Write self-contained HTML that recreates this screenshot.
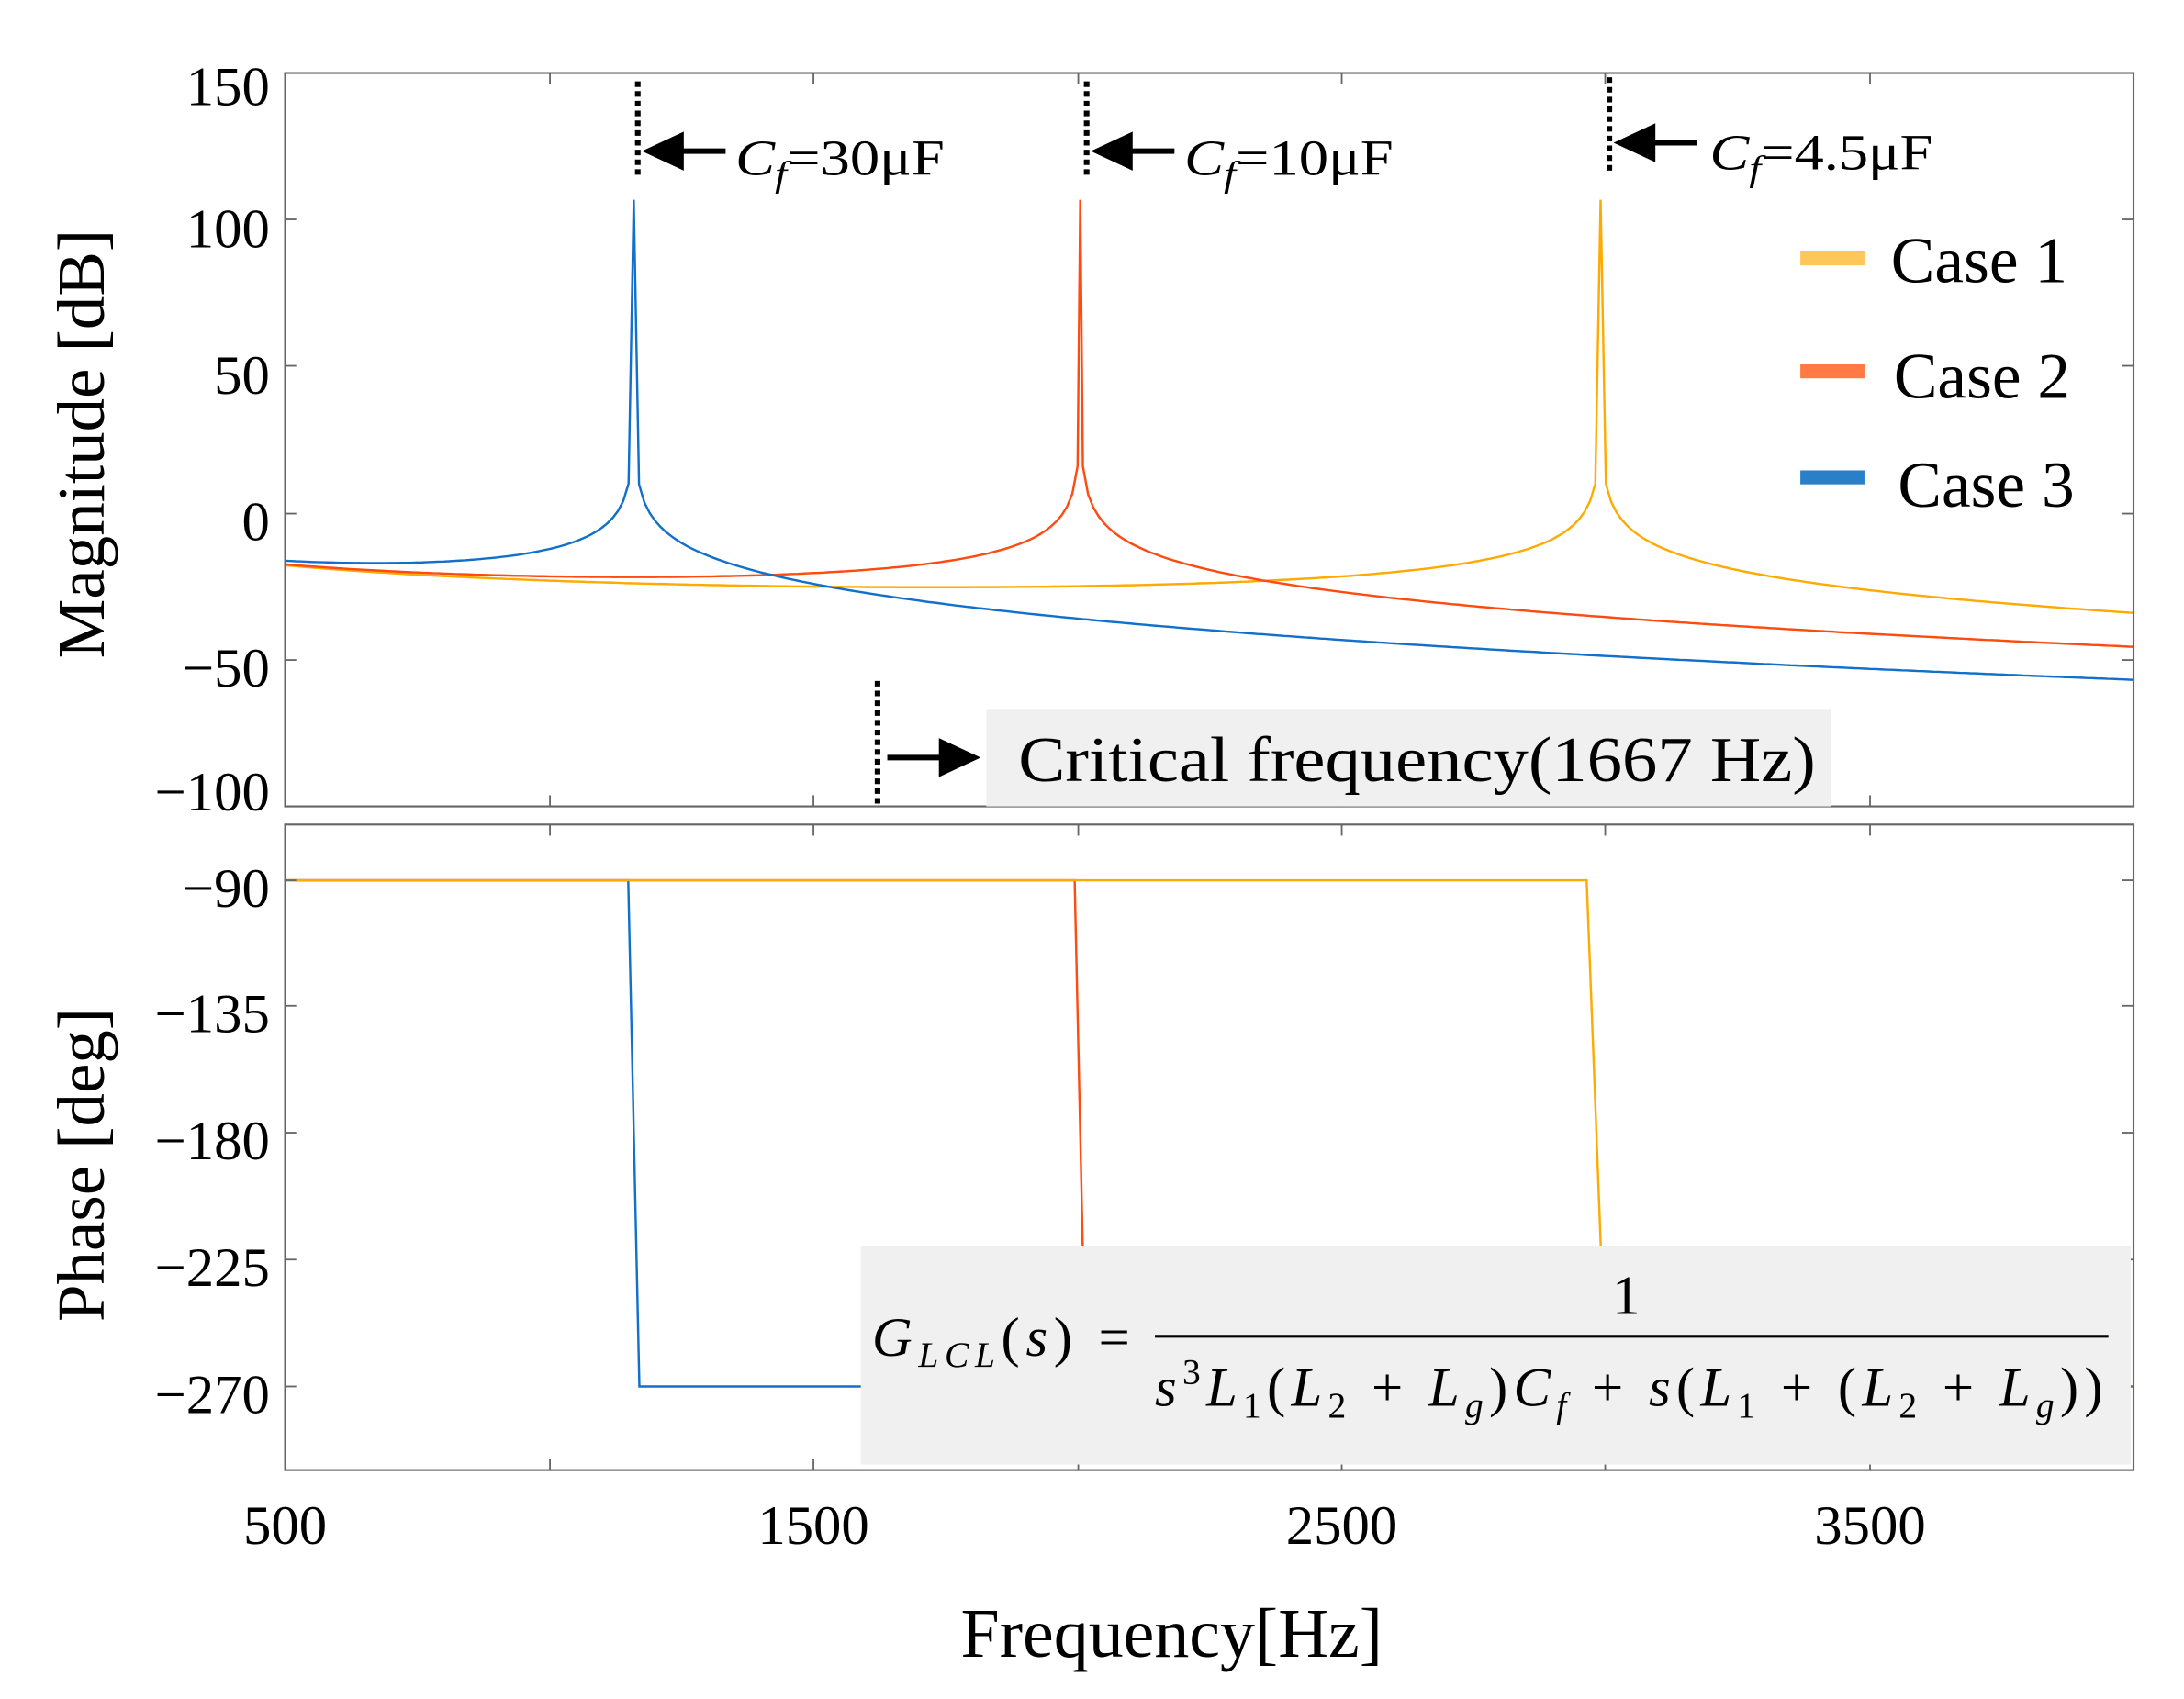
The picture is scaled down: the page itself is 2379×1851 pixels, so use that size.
<!DOCTYPE html>
<html><head><meta charset="utf-8"><style>
html,body{margin:0;padding:0;background:#fff;}
svg{display:block;}
text{font-family:"Liberation Serif",serif;fill:#000;}
</style></head><body>
<svg id="s" width="2379" height="1851" viewBox="0 0 1555 1210" preserveAspectRatio="none" xmlns="http://www.w3.org/2000/svg">
<rect width="1555" height="1210" fill="#fff"/>
<g transform="translate(0.53,0.36) scale(0.9925,0.993)">
<g id="curvesTop" fill="none" stroke-width="1.6"></g>
<g id="curvesBot" fill="none" stroke-width="1.6"></g>
<rect x="204" y="52" width="1326" height="526" fill="none" stroke="#666" stroke-width="1.4"/>
<rect x="204" y="591" width="1326" height="463" fill="none" stroke="#666" stroke-width="1.4"/>
<g id="ticks" stroke="#666" stroke-width="1.2"></g>
<g font-size="40" text-anchor="end">
<text x="193" y="75">150</text>
<text x="193" y="177">100</text>
<text x="193" y="282">50</text>
<text x="193" y="387">0</text>
<text x="193" y="492">−50</text>
<text x="193" y="581">−100</text>
<text x="193" y="650">−90</text>
<text x="193" y="740">−135</text>
<text x="193" y="831">−180</text>
<text x="193" y="922">−225</text>
<text x="193" y="1013">−270</text>
</g>
<g font-size="40" text-anchor="middle">
<text x="204" y="1107">500</text>
<text x="583" y="1107">1500</text>
<text x="962" y="1107">2500</text>
<text x="1341" y="1107">3500</text>
</g>
<text x="840" y="1188" font-size="50" text-anchor="middle">Frequency[Hz]</text>
<text transform="translate(74,318) rotate(-90)" font-size="48" text-anchor="middle">Magnitude [dB]</text>
<text transform="translate(74,835) rotate(-90)" font-size="48" text-anchor="middle">Phase [deg]</text>
<rect x="1291" y="180" width="46" height="10" fill="#FFC65A"/>
<rect x="1291" y="261" width="46" height="10" fill="#FF7A45"/>
<rect x="1291" y="337" width="46" height="10" fill="#2A80C8"/>
<text x="1356" y="202" font-size="47">Case 1</text>
<text x="1358" y="285" font-size="47">Case 2</text>
<text x="1361" y="363" font-size="47">Case 3</text>
<g stroke="#000" stroke-width="4" stroke-dasharray="4,3">
<line x1="457" y1="58" x2="457" y2="125"/>
<line x1="779" y1="58" x2="779" y2="128"/>
<line x1="1154" y1="55" x2="1154" y2="125"/>
<line x1="629" y1="488" x2="629" y2="578"/>
</g>
<g stroke="#000" stroke-width="4">
<line x1="478" y1="108" x2="520" y2="108"/>
<line x1="800" y1="108" x2="842" y2="108"/>
<line x1="1175" y1="102" x2="1217" y2="102"/>
<line x1="636" y1="543" x2="680" y2="543"/>
</g>
<g fill="#000">
<polygon points="460,108 490,94 490,122"/>
<polygon points="782,108 812,94 812,122"/>
<polygon points="1157,102 1187,88 1187,116"/>
<polygon points="703,543 673,529 673,557"/>
</g>
<g font-size="36">
<text x="527" y="125" textLength="150" lengthAdjust="spacingAndGlyphs"><tspan font-style="italic">C</tspan><tspan font-style="italic" font-size="26" dy="8">f</tspan><tspan dy="-8">=30μF</tspan></text>
<text x="849" y="125" textLength="150" lengthAdjust="spacingAndGlyphs"><tspan font-style="italic">C</tspan><tspan font-style="italic" font-size="26" dy="8">f</tspan><tspan dy="-8">=10μF</tspan></text>
<text x="1226" y="121" textLength="160" lengthAdjust="spacingAndGlyphs"><tspan font-style="italic">C</tspan><tspan font-style="italic" font-size="26" dy="8">f</tspan><tspan dy="-8">=4.5μF</tspan></text>
</g>
<rect x="707" y="508" width="606" height="70" fill="#f0f0f0"/>
<text x="730" y="560" font-size="46" textLength="572" lengthAdjust="spacingAndGlyphs">Critical frequency(1667 Hz)</text>
<rect x="617" y="893" width="911" height="157" fill="#f0f0f0"/>
<text x="625" y="972" font-size="40" textLength="185"><tspan font-style="italic">G</tspan><tspan font-style="italic" font-size="26" dy="8">LCL</tspan><tspan dy="-8">(</tspan><tspan font-style="italic">s</tspan>) =</text>
<text x="1166" y="942" font-size="40" text-anchor="middle">1</text>
<line x1="828" y1="958" x2="1512" y2="958" stroke="#000" stroke-width="2"/>
<text x="828" y="1008" font-size="40" textLength="680"><tspan font-style="italic">s</tspan><tspan font-size="26" dy="-16">3</tspan><tspan font-style="italic" dy="16">L</tspan><tspan font-size="26" dy="8">1</tspan><tspan dy="-8">(</tspan><tspan font-style="italic">L</tspan><tspan font-size="26" dy="8">2</tspan><tspan dy="-8"> + </tspan><tspan font-style="italic">L</tspan><tspan font-style="italic" font-size="26" dy="8">g</tspan><tspan dy="-8">)</tspan><tspan font-style="italic">C</tspan><tspan font-style="italic" font-size="26" dy="8">f</tspan><tspan dy="-8"> + </tspan><tspan font-style="italic">s</tspan><tspan>(</tspan><tspan font-style="italic">L</tspan><tspan font-size="26" dy="8">1</tspan><tspan dy="-8"> + (</tspan><tspan font-style="italic">L</tspan><tspan font-size="26" dy="8">2</tspan><tspan dy="-8"> + </tspan><tspan font-style="italic">L</tspan><tspan font-style="italic" font-size="26" dy="8">g</tspan><tspan dy="-8">))</tspan></text>
</g>
</svg>
<script>
(function(){
var NS="http://www.w3.org/2000/svg";
function X(f){return 204+(f-500)*0.379;}
function YM(d){return 368-d*2.104;}
function YP(p){return 631-(p+90)*(90.75/45);}
var b=0.002486;
var cases=[{fr:2990,c:"#FFAA00"},{fr:2005,c:"#FF4A10"},{fr:1160,c:"#1070CC"}];
var top=document.getElementById("curvesTop"),bot=document.getElementById("curvesBot");
var ticks=document.getElementById("ticks");
[0,1,2].forEach(function(i){
  var cs=cases[i],pts=[];
  function addp(f){var w=2*Math.PI*f;var r=1-(f/cs.fr)*(f/cs.fr);var m=-20*Math.log10(w*b*Math.abs(r));if(m>107)m=107;pts.push([X(f),YM(m)]);}
  for(var f=500;f<=4000;f+=10){
    if(Math.abs(f-cs.fr)<10){ if(f<cs.fr){ addp(f); pts.push([X(cs.fr),YM(107)]);} else {addp(f);} continue;}
    addp(f);
  }
  var p=document.createElementNS(NS,"polyline");
  p.setAttribute("points",pts.map(function(q){return q[0].toFixed(1)+","+q[1].toFixed(1);}).join(" "));
  p.setAttribute("stroke",cs.c);top.appendChild(p);
});
[2,1,0].forEach(function(i){
  var cs=cases[i];
  var x1=X(cs.fr)-4-(i==0?6:0),x2=X(cs.fr)+4;
  var p=document.createElementNS(NS,"polyline");
  p.setAttribute("points",X(500)+","+YP(-90)+" "+x1+","+YP(-90)+" "+x2+","+YP(-270)+" "+X(4000)+","+YP(-270));
  p.setAttribute("stroke",cs.c);bot.appendChild(p);
});
function ln(x1,y1,x2,y2){var l=document.createElementNS(NS,"line");l.setAttribute("x1",x1);l.setAttribute("y1",y1);l.setAttribute("x2",x2);l.setAttribute("y2",y2);ticks.appendChild(l);}
[394,583,773,962,1151,1341].forEach(function(x){ln(x,52,x,60);ln(x,578,x,570);ln(x,591,x,599);ln(x,1054,x,1046);});
[52,157,262,368,473,578].forEach(function(y){ln(204,y,212,y);ln(1530,y,1522,y);});
[631,721,812,903,994].forEach(function(y){ln(204,y,212,y);ln(1530,y,1522,y);});
})();
</script>
</body></html>
